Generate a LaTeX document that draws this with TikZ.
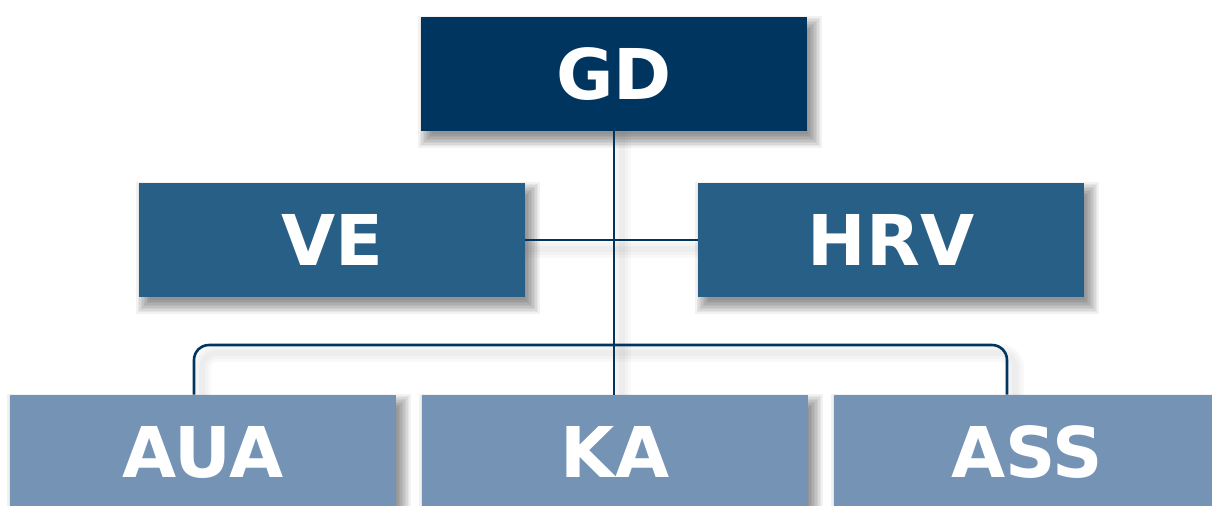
\documentclass[tikz,border=0pt]{standalone}
\usepackage{fontspec}
\setmainfont{DejaVu Sans}
\definecolor{topblue}{RGB}{0,53,96}
\definecolor{midblue}{RGB}{39,95,135}
\definecolor{lowblue}{RGB}{116,147,181}
\pgfdeclarelayer{background}
\pgfsetlayers{background,main}
\tikzset{
  unit/.style={rectangle, inner sep=0pt, minimum width=193pt, minimum height=57pt,
    text=white, font=\fontsize{35}{40}\selectfont\bfseries},
  toplevel/.style={unit, fill=topblue},
  midlevel/.style={unit, fill=midblue},
  lowlevel/.style={unit, fill=lowblue},
  conn/.style={draw=topblue, line width=1.3pt},
  connshadow/.style={draw=black!60, line width=#1, opacity=0.04},
  connshadow/.default=5pt,
  shadowlayer/.style={fill=black, opacity=0.05}
}
\begin{document}
\begin{tikzpicture}[x=0.5pt,y=-0.5pt]
\useasboundingbox (0,0) rectangle (1212,505);
\clip (0,0) rectangle (1212,505);
% nodes
\node[toplevel] (GD) at (614,74) {GD};
\node[midlevel] (VE) at (332,240) {VE};
\node[midlevel] (HRV) at (891,240) {HRV};
\node[lowlevel] (AUA) at (203,452) {AUA};
\node[lowlevel] (KA) at (615,452) {KA};
\node[lowlevel] (ASS) at (1027,452) {ASS};
\coordinate (hub) at (614,345);
\begin{pgfonlayer}{background}
\fill[white] (0,0) rectangle (1212,505);
\foreach \n in {GD,VE,HRV,AUA,KA,ASS}{
  \foreach \i in {0,...,9}{
    \pgfmathsetmacro\d{8.5-1.5*\i}
    \fill[shadowlayer] ([shift={(6-\d,8-\d)}]\n.north west) rectangle ([shift={(6+\d,8+\d)}]\n.south east);
  }
}
% line shadows
\foreach \w in {3pt,6pt,9pt}{
\draw[connshadow=\w] (622,131) -- (622,395);
\draw[connshadow=\w] (525,249) -- (698,249);
\draw[connshadow=\w, rounded corners=7.5pt] (202,395) |- (622,353) -| (1015,395);
}
\end{pgfonlayer}
% connectors
\draw[conn] (GD.south) -- (KA.north -| GD.south);
\draw[conn] (VE.east) -- (HRV.west);
\draw[conn, rounded corners=7.5pt] ([xshift=-4.5pt]AUA.north) |- (hub) -| ([xshift=-10pt]ASS.north);
\end{tikzpicture}
\end{document}
